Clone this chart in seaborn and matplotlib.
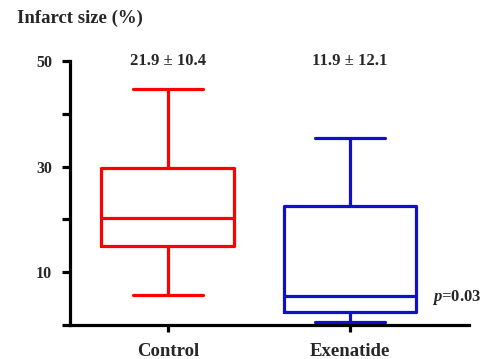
import matplotlib
matplotlib.use("Agg")
import matplotlib.pyplot as plt
import seaborn as sns
import pandas as pd

categories = ["Control", "Exenatide"]
# five-number summaries (min, Q1, median, Q3, max)
control_vals = [5.6, 14.9, 20.2, 29.7, 44.7]
exenatide_vals = [0.5, 2.4, 5.5, 22.5, 35.4]
mean_sd_labels = ["21.9 \u00b1 10.4", "11.9 \u00b1 12.1"]
p_label = r"$\mathit{p}$=0.03"
y_ticks = [0, 10, 20, 30, 40, 50]
y_ticklabels = ["", "10", "", "30", "", "50"]
colors = {"Control": "#FF0000", "Exenatide": "#1010C8"}

sns.set_theme(style="white")
plt.rcParams["font.family"] = ["Liberation Serif", "DejaVu Serif"]
plt.rcParams["font.weight"] = "bold"
plt.rcParams["mathtext.fontset"] = "custom"
plt.rcParams["mathtext.it"] = "Liberation Serif:italic"
plt.rcParams["mathtext.rm"] = "Liberation Serif:bold"

df = pd.DataFrame({
    "group": [categories[0]] * len(control_vals) + [categories[1]] * len(exenatide_vals),
    "value": control_vals + exenatide_vals,
})

fig = plt.figure(figsize=(4.82, 3.59), dpi=100)
ax = fig.add_axes([70 / 482, 34 / 359, 399 / 482, 264 / 359])

sns.boxplot(data=df, x="group", y="value", hue="group", palette=colors,
            order=categories, hue_order=categories, fill=False, legend=False,
            whis=(0, 100), width=0.73, linewidth=2.3, capwidths=0.385,
            showfliers=False, ax=ax)

for art in ax.get_children():
    try:
        art.set_clip_on(False)
    except Exception:
        pass

ax.set_xlim(-0.538, 1.654)
ax.set_ylim(0, 50)
ax.set_yticks(y_ticks)
ax.set_yticklabels(y_ticklabels, fontsize=11.5, fontweight="bold")
ax.set_xticks(range(len(categories)))
ax.set_xticklabels(categories, fontsize=13.5, fontweight="bold")
ax.set_xlabel("")
ax.set_ylabel("")

for s in ["top", "right"]:
    ax.spines[s].set_visible(False)
for s in ["left", "bottom"]:
    ax.spines[s].set_color("black")
    ax.spines[s].set_linewidth(2.3)
ax.tick_params(axis="y", direction="out", length=6, width=2.3, color="black", pad=7, left=True)
ax.tick_params(axis="x", direction="out", length=5, width=2.3, color="black", pad=8, bottom=True)

for i, lab in enumerate(mean_sd_labels):
    ax.text(i, 50, lab, ha="center", va="center", fontsize=12, fontweight="bold", clip_on=False)

ax.text(1.45, 5.3, p_label, ha="left", va="center", fontsize=12, fontweight="bold", clip_on=False)

fig.text(17 / 482, 1 - 18 / 359, "Infarct size (%)", ha="left", va="center",
         fontsize=13.5, fontweight="bold")

fig.savefig("out.png", dpi=100)
